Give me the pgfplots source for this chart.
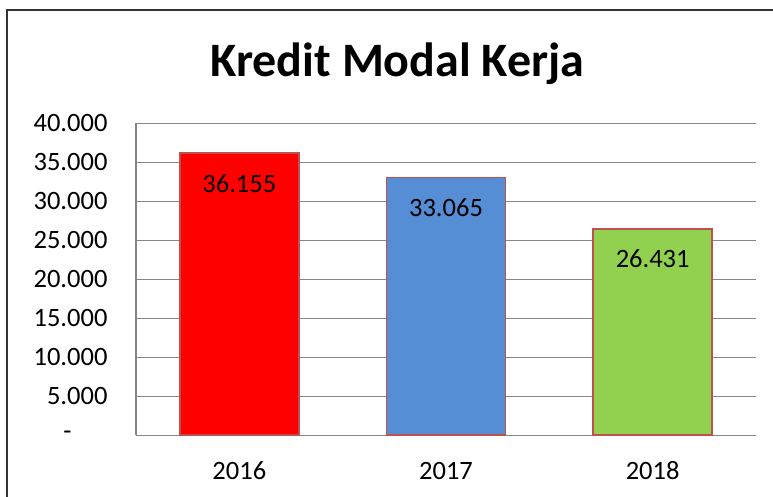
\documentclass[border=0pt]{standalone}
\usepackage{pgfplots}
\pgfplotsset{compat=1.18}
\usepackage{fontspec}
\setmainfont{Carlito}
\definecolor{gridgray}{HTML}{868686}
\definecolor{barred}{HTML}{FF0000}
\definecolor{barblue}{HTML}{558ED5}
\definecolor{bargreen}{HTML}{92D050}
\definecolor{edgered}{HTML}{C0504D}
\begin{document}
\begin{tikzpicture}[x=1pt,y=1pt]
\useasboundingbox (0,0) rectangle (773,497);
\draw[line width=1.5pt, black!80] (7,-20) -- (7,487) -- (800,487);
\node[font=\fontsize{48}{56}\selectfont\bfseries, anchor=base] at (397.5,420) {Kredit Modal Kerja};
\begin{axis}[at={(136pt,61.7pt)}, anchor=south west, scale only axis,
  width=620pt, height=312pt,
  xmin=-0.5, xmax=2.5, ymin=0, ymax=40000,
  scaled y ticks=false,
  ybar, bar width=119pt, bar shift=0pt,
  axis x line=bottom, axis y line=left,
  axis line style={-, gridgray, line width=1.2pt},
  ymajorgrids, grid style={gridgray, line width=1.5pt},
  major tick length=0pt,
  xtick={0,1,2}, xticklabels={2016,2017,2018},
  ytick={0,5000,10000,15000,20000,25000,30000,35000,40000},
  yticklabels={{-\hspace*{36pt}},5.000,10.000,15.000,20.000,25.000,30.000,35.000,40.000},
  tick label style={font=\fontsize{26.5}{30}\selectfont, text=black},
  yticklabel style={xshift=-25pt},
  xticklabel style={yshift=-23pt},
  nodes near coords,
  nodes near coords align={center},
  every node near coord/.append style={font=\fontsize{26.5}{30}\selectfont, text=black, yshift=-30pt},
  /pgf/number format/.cd, 1000 sep={.}, assume math mode=true
]
\addplot[fill=barred, draw=edgered, line width=1.6pt] coordinates {(0,36155)};
\addplot[fill=barblue, draw=edgered, line width=1.6pt] coordinates {(1,33065)};
\addplot[fill=bargreen, draw=edgered, line width=1.6pt] coordinates {(2,26431)};
\end{axis}
\end{tikzpicture}
\end{document}
